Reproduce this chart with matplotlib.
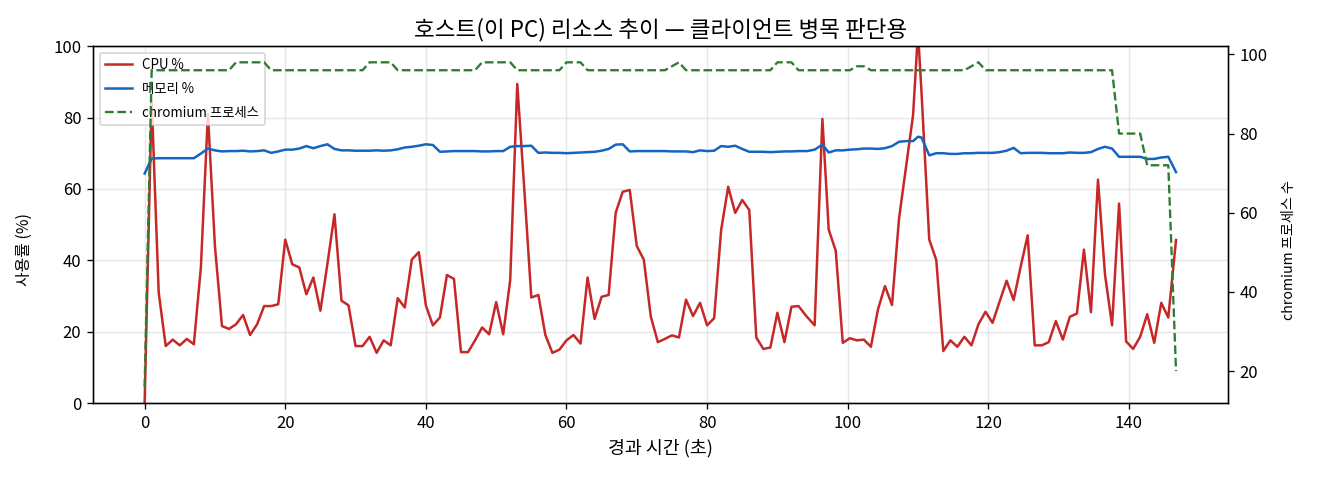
import matplotlib
matplotlib.use("Agg")
import matplotlib.pyplot as plt

plt.rcParams['font.family'] = ['Noto Sans CJK KR', 'DejaVu Sans']
plt.rcParams['axes.unicode_minus'] = False

elapsed_s = [
    0, 1, 2, 3, 4, 5, 6, 7, 8, 9, 10, 11, 12, 13, 14, 15, 16, 17, 18, 19,
    20, 21, 22, 23, 24, 25, 26, 27, 28, 29, 30, 31, 32, 33, 34, 35, 36, 37, 38, 39,
    40, 41, 42, 43, 44, 45, 46, 47, 48, 49, 50, 51, 52, 53, 54, 55, 56, 57, 58, 59,
    60, 61, 62, 63, 64, 65, 66, 67, 68, 69, 70, 71, 72, 73, 74, 75, 76, 77, 78, 79,
    80, 81, 82, 83, 84, 85, 86, 87, 88, 89, 90, 91, 92, 93,
    94.2, 95.3, 96.4, 97.3, 98.3, 99.3, 100.3, 101.3, 102.3, 103.3, 104.3, 105.3,
    106.3, 107.3, 108.3, 109.3, 110.0, 110.5,
    111.6, 112.6, 113.6, 114.6, 115.6, 116.6, 117.6, 118.6, 119.6, 120.6, 121.6,
    122.6, 123.6, 124.6, 125.6, 126.6, 127.6, 128.6, 129.6, 130.6, 131.6, 132.6,
    133.6, 134.6, 135.6, 136.6, 137.6, 138.6, 139.6, 140.6, 141.6, 142.6, 143.6,
    144.6, 145.6, 146.7,
]

cpu_pct = [
    0, 85, 31, 16, 17.8, 16.2, 18, 16.5, 38, 81,
    44, 21.6, 20.8, 22.1, 24.7, 19.1, 22.1, 27.2, 27.2, 27.7,
    45.8, 38.9, 38.0, 30.5, 35.2, 25.9, 39, 52.9, 28.7, 27.4,
    16.0, 16.0, 18.6, 14.1, 17.6, 16.2, 29.4, 26.8, 40.2, 42.3,
    27.4, 21.8, 24.0, 35.9, 34.8, 14.3, 14.3, 17.6, 21.2, 19.3,
    28.3, 19.3, 34.5, 89.4, 60, 29.6, 30.3, 19.1, 14.1, 15.0,
    17.6, 19.1, 16.7, 35.2, 23.6, 29.8, 30.3, 53.3, 59.2, 59.7,
    44.0, 40.2, 24.2, 17.1, 18.0, 19.0, 18.4, 29.0, 24.4, 28.1,
    21.8, 23.8, 48.5, 60.6, 53.3, 56.9, 54.1, 18.4, 15.2, 15.6,
    25.3, 17.1, 27.0, 27.2,
    24.2, 21.8, 79.6, 48.6, 42.7, 16.9, 18.2, 17.6, 17.8, 15.8, 26.2, 32.8,
    27.5, 51.7, 66.2, 80.7, 104, 87,
    45.8, 40.1, 14.6, 17.6, 15.8, 18.6, 16.2, 22.1, 25.6, 22.5, 28.4,
    34.3, 28.9, 38.2, 47.0, 16.2, 16.2, 17.1, 23.0, 17.8, 24.2, 25.1,
    43.0, 25.5, 62.6, 36, 21.8, 55.9, 17.3, 15.2, 18.6, 24.9, 16.9,
    28.1, 24.0, 45.7,
]

mem_pct = [
    64.3, 68.5, 68.6, 68.6, 68.6, 68.6, 68.6, 68.6, 69.9, 71.3,
    70.8, 70.5, 70.6, 70.6, 70.7, 70.5, 70.6, 70.8, 70.1, 70.5,
    71.0, 71.0, 71.3, 72.0, 71.4, 72.0, 72.5, 71.2, 70.8, 70.8,
    70.7, 70.7, 70.7, 70.8, 70.7, 70.8, 71.1, 71.6, 71.8, 72.1,
    72.5, 72.3, 70.4, 70.5, 70.6, 70.6, 70.6, 70.6, 70.5, 70.5,
    70.6, 70.6, 71.8, 72.0, 72.0, 72.1, 70.1, 70.2, 70.1, 70.1,
    70.0, 70.1, 70.2, 70.3, 70.4, 70.7, 71.2, 72.4, 72.5, 70.5,
    70.6, 70.6, 70.6, 70.6, 70.6, 70.5, 70.5, 70.5, 70.3, 70.8,
    70.6, 70.7, 72.0, 71.8, 72.1, 71.2, 70.4, 70.4, 70.4, 70.3,
    70.4, 70.5, 70.5, 70.6,
    70.6, 71.0, 72.4, 70.2, 70.8, 70.8, 71.0, 71.1, 71.3, 71.3, 71.2, 71.4,
    72.0, 73.2, 73.4, 73.4, 74.6, 74.4,
    69.4, 70.0, 70.0, 69.8, 69.8, 70.0, 70.0, 70.1, 70.1, 70.1, 70.3,
    70.7, 71.5, 70.0, 70.1, 70.1, 70.1, 70.0, 70.0, 70.0, 70.2, 70.1,
    70.1, 70.3, 71.2, 71.8, 71.3, 69.0, 69.0, 69.0, 69.0, 68.4, 68.4,
    68.8, 69.0, 64.7,
]

chromium_procs = [
    16, 96, 96, 96, 96, 96, 96, 96, 96, 96,
    96, 96, 96, 98, 98, 98, 98, 98, 96, 96,
    96, 96, 96, 96, 96, 96, 96, 96, 96, 96,
    96, 96, 98, 98, 98, 98, 96, 96, 96, 96,
    96, 96, 96, 96, 96, 96, 96, 96, 98, 98,
    98, 98, 98, 96, 96, 96, 96, 96, 96, 96,
    98, 98, 98, 96, 96, 96, 96, 96, 96, 96,
    96, 96, 96, 96, 96, 97, 98, 96, 96, 96,
    96, 96, 96, 96, 96, 96, 96, 96, 96, 96,
    98, 98, 98, 96,
    96, 96, 96, 96, 96, 96, 96, 97, 97, 96, 96, 96,
    96, 96, 96, 96, 96, 96,
    96, 96, 96, 96, 96, 96, 97, 98, 96, 96, 96,
    96, 96, 96, 96, 96, 96, 96, 96, 96, 96, 96,
    96, 96, 96, 96, 96, 80, 80, 80, 80, 72, 72,
    72, 72, 20,
]

title = "호스트(이 PC) 리소스 추이 — 클라이언트 병목 판단용"
xlabel = "경과 시간 (초)"
ylabel_left = "사용률 (%)"
ylabel_right = "chromium 프로세스 수"
labels = ["CPU %", "메모리 %", "chromium 프로세스"]

fig = plt.figure(figsize=(11, 4), dpi=120)
ax1 = fig.add_axes([0.0705, 0.160, 0.8595, 0.744])
ax2 = ax1.twinx()

l1, = ax1.plot(elapsed_s, cpu_pct, color="#c62828", lw=1.5, label=labels[0])
l2, = ax1.plot(elapsed_s, mem_pct, color="#1565c0", lw=1.5, label=labels[1])
l3, = ax2.plot(elapsed_s, chromium_procs, color="#2e7d32", lw=1.4, ls="--", label=labels[2])

ax1.set_ylim(0, 100)
ax1.grid(True, alpha=0.3)
ax1.set_xlabel(xlabel, fontsize=11)
ax1.set_ylabel(ylabel_left, fontsize=9.5)
ax2.set_ylabel(ylabel_right, fontsize=8.5)
ax1.yaxis.set_label_coords(-0.053, 0.43)
ax2.yaxis.set_label_coords(1.048, 0.43)
ax1.set_title(title, fontsize=13.5)
ax1.tick_params(labelsize=10)
ax2.tick_params(labelsize=10)
ax1.legend(handles=[l1, l2, l3], loc="upper left", fontsize=8, labelspacing=0.75)

fig.savefig("out.png", dpi=120)
